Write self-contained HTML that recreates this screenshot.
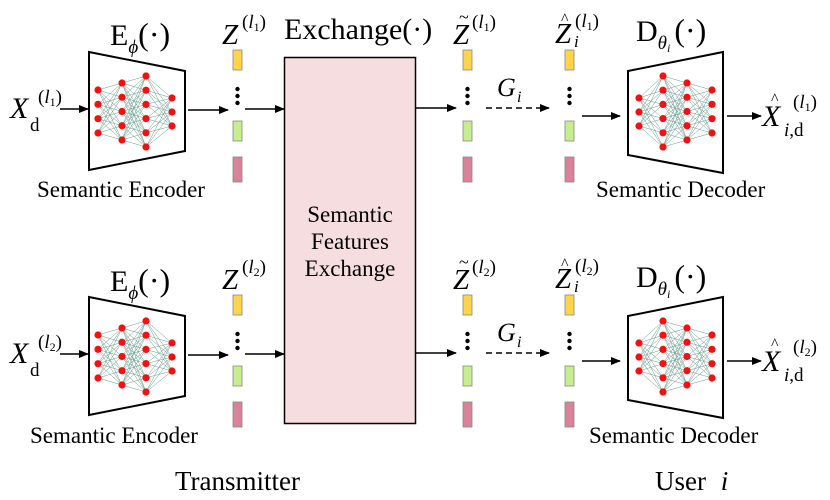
<!DOCTYPE html>
<html><head><meta charset="utf-8"><style>
body{margin:0;background:#fff}
svg{display:block;font-family:"Liberation Serif",serif}
.i{font-style:italic}
</style></head><body>
<svg id="s" width="830" height="500" viewBox="0 0 830 500">
<defs><marker id="a" markerWidth="10" markerHeight="8" refX="9" refY="4" orient="auto" markerUnits="userSpaceOnUse"><path d="M0,0 L10,4 L0,8 Z" fill="#000"/></marker></defs>
<rect x="284.5" y="57.5" width="131" height="366" fill="#f6dde0" stroke="#000" stroke-width="1.5"/>
<text x="350" y="222" font-size="23" text-anchor="middle">Semantic</text>
<text x="350" y="249" font-size="23" text-anchor="middle">Features</text>
<text x="350" y="276" font-size="23" text-anchor="middle">Exchange</text>
<text x="284" y="39" font-size="30">Exchange(·)</text>
<text x="110" y="45" font-size="30">E<tspan class="i" font-size="19" dy="8">ϕ</tspan><tspan dy="-8" font-size="32">(·)</tspan></text>
<text x="110" y="291" font-size="30">E<tspan class="i" font-size="19" dy="8">ϕ</tspan><tspan dy="-8" font-size="32">(·)</tspan></text>
<text x="636" y="41" font-size="30">D<tspan class="i" font-size="19" dy="8">θ</tspan><tspan class="i" font-size="12" dy="3">i</tspan><tspan dy="-11" dx="4" font-size="32">(·)</tspan></text>
<text x="636" y="287" font-size="30">D<tspan class="i" font-size="19" dy="8">θ</tspan><tspan class="i" font-size="12" dy="3">i</tspan><tspan dy="-11" dx="4" font-size="32">(·)</tspan></text>
<g font-size="23">
<text x="37" y="197">Semantic Encoder</text>
<text x="30" y="443">Semantic Encoder</text>
<text x="596" y="197">Semantic Decoder</text>
<text x="589" y="443">Semantic Decoder</text>
<text x="175" y="490" font-size="27">Transmitter</text>
<text x="655" y="490" font-size="27">User <tspan class="i" dx="8">i</tspan></text>
</g>
<g id="g"></g>
</svg>
<script>
const g=document.getElementById('g');let h='';
function L(x1,y1,x2,y2,d){h+=`<line x1="${x1}" y1="${y1}" x2="${x2}" y2="${y2}" stroke="#000" stroke-width="1.5" ${d?'stroke-dasharray="6,4"':''} marker-end="url(#a)"/>`}
function net(cols){for(let c=0;c<cols.length-1;c++)for(const a of cols[c].ys)for(const b of cols[c+1].ys)h+=`<line x1="${cols[c].x}" y1="${a}" x2="${cols[c+1].x}" y2="${b}" stroke="#6a9a8e" stroke-width="0.5"/>`;
for(const c of cols)for(const y of c.ys)h+=`<circle cx="${c.x}" cy="${y}" r="3.6" fill="#f21010"/>`}
function rng(a,b,n){let r=[];for(let i=0;i<n;i++)r.push(a+(b-a)*i/(n-1));return r}
function bars(x,y){h+=`<rect x="${x}" y="${y}" width="9" height="20" fill="#fdd44a" stroke="#888" stroke-width="0.8"/>`;
for(let k=0;k<3;k++)h+=`<circle cx="${x+4.5}" cy="${y+39+k*7}" r="2.2" fill="#000"/>`;
h+=`<rect x="${x}" y="${y+71}" width="9" height="20" fill="#c6ee8e" stroke="#888" stroke-width="0.8"/>`;
h+=`<rect x="${x}" y="${y+107}" width="9" height="25" fill="#d9829a" stroke="#888" stroke-width="0.8"/>`}
const sup=(x,y,l)=>`<text x="${x}" y="${y}" font-size="19">(<tspan class="i">l</tspan><tspan font-size="12" dy="3">${l}</tspan><tspan dy="-3">)</tspan></text>`;
for(const [o,l] of [[0,'1'],[245,'2']]){
 h+=`<polygon points="89,${52+o} 185,${71+o} 185,${151+o} 89,${170+o}" fill="#fff" stroke="#000" stroke-width="2"/>`;
 net([{x:98,ys:rng(90+o,133+o,4)},{x:122,ys:rng(83+o,140+o,5)},{x:146,ys:rng(76+o,147+o,6)},{x:172,ys:rng(98+o,126+o,3)}]);
 h+=`<polygon points="628,${71+o} 723,${52+o} 723,${173+o} 628,${155+o}" fill="#fff" stroke="#000" stroke-width="2"/>`;
 net([{x:639,ys:rng(98+o,126+o,3)},{x:663,ys:rng(76+o,147+o,6)},{x:687,ys:rng(83+o,140+o,5)},{x:712,ys:rng(90+o,133+o,4)}]);
 bars(233,50+o);bars(463,50+o);bars(565,50+o);
 L(60,109+o,88,109+o);L(188,110+o,228,110+o);L(245,109+o,284,109+o);
 L(416,108+o,456,108+o);L(486,108+o,549,108+o,1);L(582,116+o,620,116+o);L(727,116+o,761,116+o);
 h+=`<text x="10" y="${118+o}" font-size="30" class="i">X</text><text x="30" y="${131+o}" font-size="19">d</text>`+sup(38,103+o,l);
 h+=`<text x="222" y="${44+o}" font-size="29" class="i">Z</text>`+sup(242,28+o,l);
 h+=`<text x="453" y="${44+o}" font-size="29" class="i">Z</text><text x="459" y="${23+o}" font-size="18">~</text>`+sup(472,28+o,l);
 h+=`<text x="555" y="${43+o}" font-size="29" class="i">Z</text><text x="561" y="${24+o}" font-size="16">^</text><text x="574" y="${47+o}" font-size="17" class="i">i</text>`+sup(575,27+o,l);
 h+=`<text x="497" y="${96+o}" font-size="26" class="i">G</text><text x="517" y="${102+o}" font-size="16" class="i">i</text>`;
 h+=`<text x="762" y="${126+o}" font-size="30" class="i">X</text><text x="771" y="${104+o}" font-size="16">^</text><text x="784" y="${136+o}" font-size="19"><tspan class="i">i</tspan>,d</text>`+sup(793,108+o,l);
}
g.innerHTML=h;
</script>
</body></html>
